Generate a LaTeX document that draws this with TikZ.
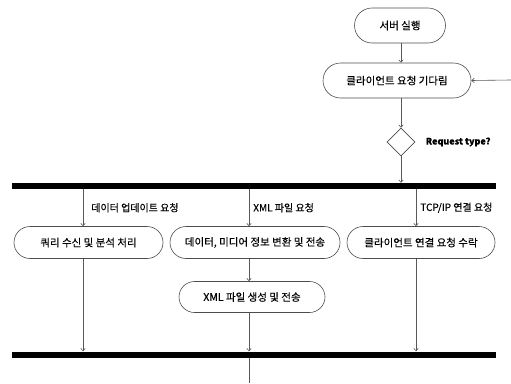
\documentclass[tikz,border=0pt]{standalone}
\usepackage{fontspec}
\setmainfont{Noto Sans CJK KR}[FakeBold=0.3]
\usetikzlibrary{shapes.geometric,shapes.misc,arrows.meta}
\begin{document}
\begin{tikzpicture}[x=1pt,y=-1pt,
  act/.style={draw=black!70,line width=0.6pt,rounded rectangle,minimum height=32pt,inner sep=2pt,font=\fontsize{10.5}{12}\selectfont},
  flow/.style={draw=black!65,line width=0.6pt,-{Straight Barb[length=2.5pt,width=4.5pt]}},
  bar/.style={fill=black,minimum width=484pt,minimum height=6pt,inner sep=0pt},
  guard/.style={right,inner sep=0pt,xshift=#1,font=\fontsize{10}{12}\selectfont},
  guard/.default=4pt]
\useasboundingbox (0,0) rectangle (511,383);

\coordinate (lane0) at (401,0);
\coordinate (lane1) at (83,0);
\coordinate (lane2) at (249,0);
\coordinate (lane3) at (416,0);
\coordinate (loop) at (511,80);
\coordinate (end) at (249,383);

\node[act,minimum width=95pt,minimum height=35pt] (start) at (400,25.5) {서버 실행};
\node[act,minimum width=152pt,minimum height=35pt] (wait) at (397,80.5) {클라이언트 요청 기다림};
\node[diamond,draw=black!70,line width=0.6pt,minimum size=28pt,inner sep=0pt] (type) at (401,142) {};
\node[right,xshift=7pt,font=\bfseries\fontsize{9}{11}\selectfont] (typelbl) at (type.east) {Request type?};
\node[bar] (fork) at (254,186) {};
\node[act,minimum width=153pt] (query) at (88.5,242.5) {쿼리 수신 및 분석 처리};
\node[act,minimum width=174pt] (convert) at (255,242.5) {데이터, 미디어 정보 변환 및 전송};
\node[act,minimum width=152pt] (accept) at (421,242.5) {클라이언트 연결 요청 수락};
\node[act,minimum width=150pt,minimum height=31pt] (xmlgen) at (252,297) {XML 파일 생성 및 전송};
\node[bar] (join) at (254,354.5) {};

\draw[flow] (start.south -| lane0) -- (wait.north -| lane0);
\draw[flow] (loop) -- (wait.east);
\draw[flow] (wait.south -| lane0) -- (type.north);
\draw[flow] (type.south) -- (fork.north -| type);
\draw[flow] (fork.south -| lane1) -- node[guard=8pt] {데이터 업데이트 요청} (query.north -| lane1);
\draw[flow] (fork.south -| lane2) -- node[guard] {XML 파일 요청} (convert.north -| lane2);
\draw[flow] (fork.south -| lane3) -- node[guard] {TCP/IP 연결 요청} (accept.north -| lane3);
\draw[flow] (convert.south -| lane2) -- (xmlgen.north -| lane2);
\draw[flow] (query.south -| lane1) -- (join.north -| lane1);
\draw[flow] (xmlgen.south -| lane2) -- (join.north -| lane2);
\draw[flow] (accept.south -| lane3) -- (join.north -| lane3);
\draw[draw=black!65,line width=0.6pt] (join.south -| lane2) -- (end);
\end{tikzpicture}
\end{document}
